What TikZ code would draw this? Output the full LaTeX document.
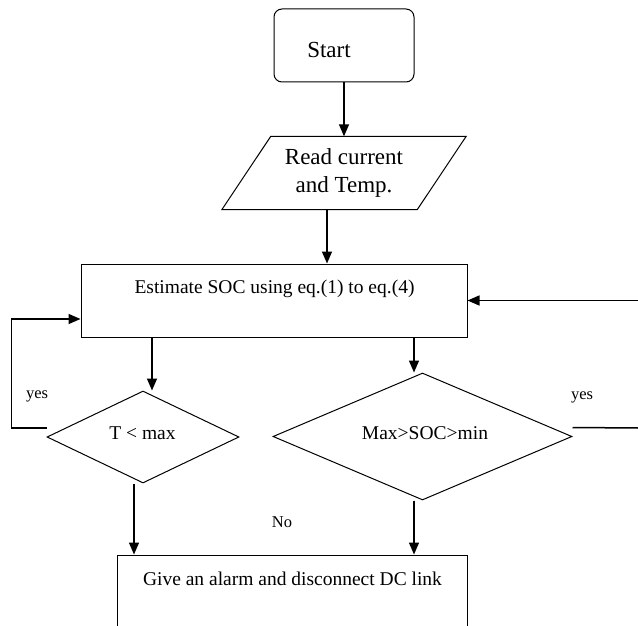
\documentclass[tikz,border=0pt]{standalone}
\usepackage{fontspec}
\setmainfont{Liberation Serif}
\usetikzlibrary{shapes.geometric,arrows.meta}
\begin{document}
\begin{tikzpicture}[x=1pt,y=-1pt,
  box/.style={draw, line width=1pt, inner sep=0pt},
  conn/.style={line width=1.5pt},
  arr/.style={conn, -{Triangle[length=12pt,width=10pt]}},
  txt/.style={font=\fontsize{19.5}{23}\selectfont, inner sep=0pt, anchor=base},
  bigtxt/.style={font=\fontsize{23}{28}\selectfont, inner sep=0pt},
  smalltxt/.style={font=\fontsize{16.5}{20}\selectfont, inner sep=0pt, anchor=base}]
\useasboundingbox (0,0) rectangle (638,626);
\clip (0,0) rectangle (638,626);

% Start
\node[box, rounded corners=8pt, minimum width=140pt, minimum height=73pt] (start) at (344,45.5) {};
\node[bigtxt, anchor=base] (starttxt) at (329,58) {Start};

% Read current
\node[bigtxt, align=center, minimum width=195pt, minimum height=73pt] (read) at (344,173) {Read current\\and Temp.};
\draw[line width=1pt] ([xshift=24.5pt]read.north west) -- ([xshift=24.5pt]read.north east)
  -- ([xshift=-24.5pt]read.south east) -- ([xshift=-24.5pt]read.south west) -- cycle;

% Estimate
\node[box, minimum width=386pt, minimum height=73pt] (est) at (274,300.5) {};
\node[txt] (esttxt) at (274.5,293) {Estimate SOC using eq.(1) to eq.(4)};

% Decisions
\node[box, diamond, minimum width=192pt, minimum height=92pt] (d1) at (143,437) {};
\node[txt] (d1txt) at (142.5,439) {T < max};
\node[box, diamond, minimum width=299pt, minimum height=127pt] (d2) at (422.5,436.5) {};
\node[txt] (d2txt) at (425,439) {Max>SOC>min};

% Alarm
\node[box, minimum width=350pt, minimum height=140pt] (give) at (292,625) {};
\node[txt] (givetxt) at (292.5,585) {Give an alarm and disconnect DC link};

% Labels
\node[smalltxt] (yesl) at (37,398) {yes};
\node[smalltxt] (yesr) at (582,399) {yes};
\node[smalltxt] (no) at (282,527) {No};

% Connectors
\draw[arr] (start.south) -- (start.south |- read.north);
\draw[arr] ([xshift=-17pt]read.south) -- ([xshift=-17pt]read.south |- est.north);
\draw[arr] ([xshift=9pt]d1.north |- est.south) -- ([xshift=9pt]d1.north);
\draw[arr] ([xshift=-8.5pt]d2.north |- est.south) -- ([xshift=-8.5pt]d2.north);
\draw[arr] ([xshift=-9pt]d1.south) -- ([xshift=-9pt]d1.south |- give.north);
\draw[arr] ([xshift=-8.5pt]d2.south) -- ([xshift=-8.5pt]d2.south |- give.north);
\draw[arr] ([yshift=9pt]d1.west) -- ++(-35,0) |- ([yshift=-18.5pt]est.west);
\coordinate (rout) at (638,428);
\draw[conn] ([yshift=9pt]d2.east) -- (rout);
\coordinate (rin) at (638,300.5);
\draw[arr] (rin) -- (est.east);
\end{tikzpicture}
\end{document}
